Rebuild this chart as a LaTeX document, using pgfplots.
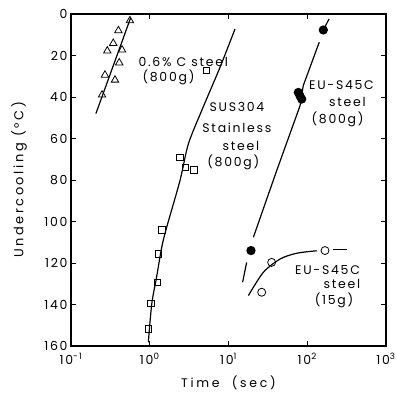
\documentclass[border=0pt]{standalone}
\usepackage{fontspec}
\setmainfont{Poppins}[LetterSpace=14]
\usepackage{pgfplots}
\pgfplotsset{compat=1.18}
\begin{document}
\begin{tikzpicture}
\path[use as bounding box] (-71bp,-48bp) rectangle (326bp,346bp);
\begin{axis}[
  scale only axis, width=315bp, height=332bp,
  anchor=south west, at={(0,0)},
  xmode=log, xmin=0.1, xmax=1000, ymin=0, ymax=160, y dir=reverse,
  xtick={0.1,1,10,100,1000},
  xticklabels={10\textsuperscript{-1},10\textsuperscript{0},10\textsuperscript{1},10\textsuperscript{2},10\textsuperscript{3}},
  xticklabel style={yshift=-4bp},
  xminorticks=false,
  ytick={0,20,...,160},
  yticklabel style={/pgf/number format/assume math mode=true},
  tick align=inside, major tick length=5bp,
  axis line style={line width=1.3pt},
  tick style={line width=0.8pt, black},
  font=\fontsize{12.5}{14}\selectfont,
  xlabel={Time\ \ (sec)}, ylabel={Undercooling (°C)},
  xlabel style={at={(axis description cs:0.5,-0.111)}, anchor=center, font=\fontsize{12.5}{14}\selectfont\addfontfeature{LetterSpace=22}},
  ylabel style={at={(axis description cs:-0.165,0.5)}, anchor=center, font=\fontsize{13}{15}\selectfont\addfontfeature{LetterSpace=20}},
  every axis plot/.append style={line width=1.2pt, black},
  clip=false,
]
% 0.6% C steel
\addplot[only marks, mark=triangle, mark size=4.3bp, mark options={line width=0.8pt}] coordinates {
(0.56,3.2) (0.40,8) (0.344,14.1) (0.289,17.8) (0.445,17.3) (0.41,23.5) (0.27,29.4) (0.362,31.8) (0.248,39)};
\addplot[no marks] coordinates {(0.57,2) (0.207,48)};
% SUS304
\addplot[only marks, mark=square, mark size=3.2bp, mark options={line width=0.8pt}] coordinates {
(5.28,27.3) (2.42,69) (2.86,73.9) (3.65,75.2) (1.42,104.1) (1.29,115.7) (1.26,129.3) (1.04,139.4) (0.96,151.8)};
\addplot[no marks, smooth] coordinates {
(12.1,7.2) (7.8,25.7) (4.56,46.6) (3.09,62.7) (2.42,80.3) (1.64,102.8) (1.42,112.4) (1.22,126.9) (1.06,139.8) (0.96,158.2)};
% EU-S45C 800g
\addplot[no marks] coordinates {(189,2.4) (160,7.7)};
\addplot[no marks] coordinates {(142,13.6) (89,34.5) (81,44.2) (40.9,75.5) (20.7,107.6)};
\addplot[no marks] coordinates {(17,119.7) (15.1,129.3)};
\addplot[only marks, mark=*, mark size=4bp] coordinates {
(160,7.7) (77,37.8) (81,39.5) (85,41) (19.3,114)};
% EU-S45C 15g
\addplot[no marks, smooth] coordinates {
(17.9,135.7) (27.7,124.5) (45.1,118.1) (73.5,115.3) (132,114.1)};
\addplot[no marks] coordinates {(214,113.3) (318,113.3)};
\addplot[only marks, mark=o, mark size=4bp, mark options={line width=0.8pt, fill=white}] coordinates {
(168,114) (35.3,119.7) (26.4,134.1)};
% labels
\node[anchor=west] at (axis cs:0.65,23.1) {0.6\% C steel};
\node[anchor=west] at (axis cs:0.73,30.4) {(800g)};
\node at (axis cs:12.8,44.8) {SUS304};
\node at (axis cs:12.8,54.9) {Stainless};
\node at (axis cs:14.4,63.6) {steel};
\node at (axis cs:11.5,71.3) {(800g)};
\node at (axis cs:272,34.2) {EU-S45C};
\node at (axis cs:324,42.4) {steel};
\node at (axis cs:242,50.6) {(800g)};
\node at (axis cs:181,123.4) {EU-S45C};
\node at (axis cs:276,130.1) {steel};
\node at (axis cs:219,137.8) {(15g)};
\end{axis}
\end{tikzpicture}
\end{document}
